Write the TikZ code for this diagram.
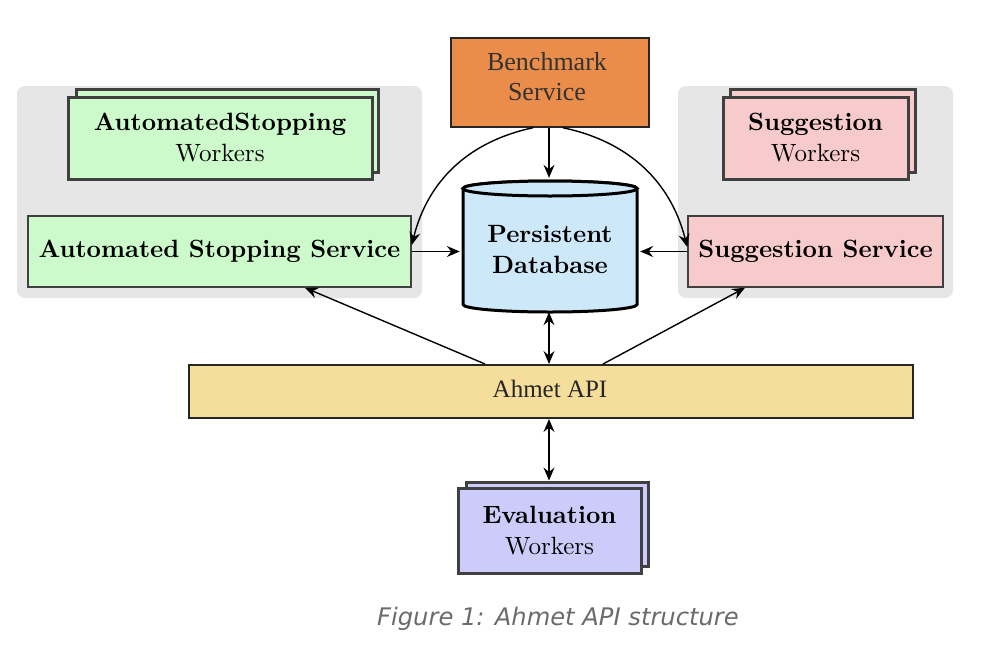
\documentclass[tikz,border=0pt]{standalone}
\usepackage{fontspec}
\usetikzlibrary{arrows.meta,calc}
\setmainfont{lmroman10}[Extension=.otf, UprightFont=*-regular, BoldFont=*-bold, ItalicFont=*-italic, BoldItalicFont=*-bolditalic]
\newfontfamily\timesf{Liberation Serif}
\newfontfamily\capf{DejaVu Sans}
\definecolor{grp}{HTML}{E6E6E6}
\definecolor{asg}{HTML}{CCFACA}
\definecolor{sgp}{HTML}{F7CBCB}
\definecolor{evl}{HTML}{CCCCFA}
\definecolor{bmo}{HTML}{EA8D4B}
\definecolor{dbb}{HTML}{CDE8F8}
\definecolor{api}{HTML}{F5DE9C}
\definecolor{bord}{HTML}{404040}
\tikzset{
  big/.style={font=\fontsize{25}{31}\selectfont},
  worker/.style={draw=bord, line width=3pt, inner sep=0pt, align=center, big},
  service/.style={draw=bord, line width=1.5pt, inner sep=0pt, align=center, big},
  group/.style={fill=grp, rounded corners=8pt},
  tip/.tip={Stealth[length=13pt,width=11pt,inset=4.5pt]},
  conn/.style={line width=1.4pt, -tip},
  conn2/.style={line width=1.4pt, tip-tip},
}
\begin{document}
\begin{tikzpicture}[x=1pt,y=-1pt]
\useasboundingbox (0,0) rectangle (984,648);
% groups
\path[group] (17,86) rectangle (422,298);
\path[group] (678,86) rectangle (953,298);
% automated stopping workers
\node[worker, fill=asg, minimum width=302, minimum height=83] (aswb) at (227,130.5) {};
\node[worker, fill=asg, minimum width=304, minimum height=82] (asw) at (220,138) {\textbf{AutomatedStopping}\\Workers};
% suggestion workers
\node[worker, fill=sgp, minimum width=185, minimum height=83] (sgwb) at (822.5,130.5) {};
\node[worker, fill=sgp, minimum width=185, minimum height=82] (sgw) at (815.5,138) {\textbf{Suggestion}\\Workers};
% services
\node[service, fill=asg, minimum width=383, minimum height=71] (as) at (219.5,251.5) {\textbf{Automated Stopping Service}};
\node[service, fill=sgp, minimum width=255, minimum height=71] (sg) at (815.5,251.5) {\textbf{Suggestion Service}};
% benchmark
\node[draw=black!85, line width=1.5pt, fill=bmo, minimum width=198, minimum height=89, inner sep=0pt] (bench) at (550,82.5) {};
\node[align=center, inner sep=0pt, font=\timesf\fontsize{26}{30}\selectfont, text=black!80] (benchtxt) at (547,77) {Benchmark\\Service};
% database cylinder
\node[minimum width=174, minimum height=134, inner sep=0pt] (db) at (550,245) {};
\draw[line width=3pt, fill=dbb] (463,188.5) -- (463,304.5) arc[start angle=180, end angle=360, x radius=87, y radius=-7.5]
   -- (637,188.5) arc[start angle=0, end angle=180, x radius=87, y radius=-7.5] -- cycle;
\draw[line width=3pt, fill=dbb] (550,188.5) ellipse[x radius=87, y radius=7.5];
\node[align=center, big, inner sep=0pt] (dbt) at (550,249) {\textbf{Persistent}\\\textbf{Database}};
% api
\node[draw=black!85, line width=2pt, fill=api, minimum width=724, minimum height=53, inner sep=0pt] (apin) at (551,391.5) {};
\node[inner sep=0pt, font=\timesf\fontsize{25}{30}\selectfont, text=black!85] (apitxt) at (550,389) {Ahmet API};
% evaluation workers
\node[worker, fill=evl, minimum width=182, minimum height=84] (evb) at (557,524) {};
\node[worker, fill=evl, minimum width=183, minimum height=85] (ev) at (549.5,530.5) {\textbf{Evaluation}\\Workers};
% caption
\node[font=\capf\itshape\fontsize{24.2}{28}\selectfont, text=black!58, inner sep=0pt] (cap) at (558,619) {Figure 1: Ahmet API structure};
% connectors
\draw[conn] ([xshift=-1pt]bench.south) -- ([xshift=-1pt]bench.south |- db.north);
\draw[conn] ([xshift=-17pt]bench.south) to[bend right=32] ([yshift=6.5pt]as.east);
\draw[conn] ([xshift=13pt]bench.south) to[bend left=32] ([yshift=4.5pt]sg.west);
\draw[conn] (as.east) -- ([xshift=-3pt]as.east -| db.west);
\draw[conn] (sg.west) -- ([xshift=3pt]sg.west -| db.east);
\draw[conn2] ([xshift=-1pt]db.south) -- ([xshift=-1pt]db.south |- apin.north);
\draw[conn] ([xshift=-66pt]apin.north) -- ([xshift=85.5pt]as.south);
\draw[conn] ([xshift=52pt]apin.north) -- ([xshift=-70.5pt]sg.south);
\draw[conn2] ([xshift=-2pt]apin.south) -- ([xshift=-2pt]apin.south |- evb.north);
\end{tikzpicture}
\end{document}
